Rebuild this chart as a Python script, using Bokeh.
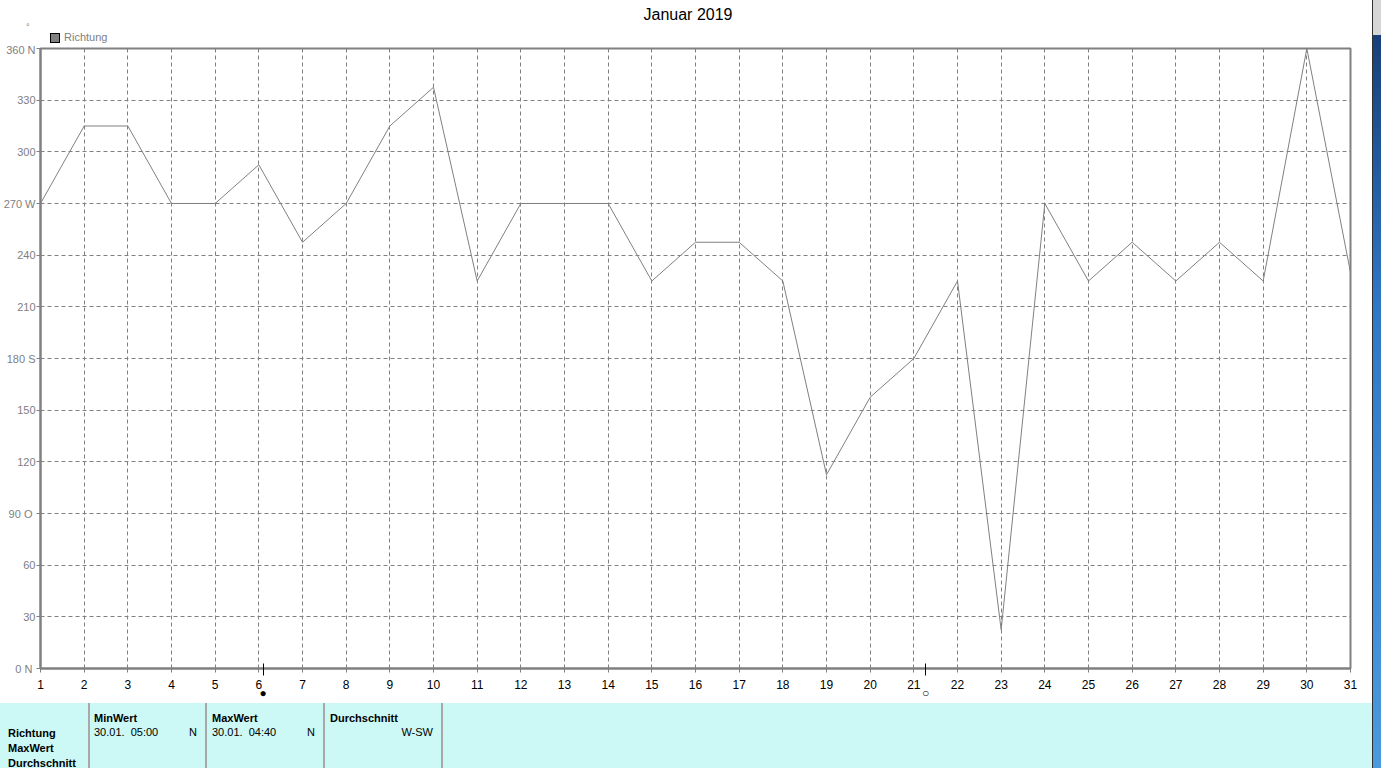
from bokeh.plotting import figure
from bokeh.models import Range1d, FixedTicker, Div
from bokeh.layouts import column, row
from bokeh.embed import file_html
from bokeh.resources import INLINE

# ---------------- data ----------------
title_text = "Januar 2019"
series_name = "Richtung"
days = list(range(1, 32))
richtung = [270, 315, 315, 270, 270, 292.5, 247.5, 270, 315, 337.5,
            225, 270, 270, 270, 225, 247.5, 247.5, 225, 112.5, 157.5,
            180, 225, 22.5, 270, 225, 247.5, 225, 247.5, 225, 360, 230]
y_ticks = [0, 30, 60, 90, 120, 150, 180, 210, 240, 270, 300, 330, 360]
y_tick_labels = ["0  N", "30", "60", "90  O", "120", "150", "180 S",
                 "210", "240", "270 W", "300", "330", "360 N"]
moon_days = [6.1, 21.27]
moon_symbols = ["\u25CF", "\u25CB"]

row_labels = ["Richtung", "MaxWert", "Durchschnitt"]
col_headers = ["MinWert", "MaxWert", "Durchschnitt"]
col_times = ["30.01.  05:00", "30.01.  04:40", ""]
col_dirs = ["N", "N", "W-SW"]

FONT = "Liberation Sans"
GRAY = "#808080"
W = 1372

# ---------------- header (title + legend) ----------------
hspan = "position:absolute;white-space:pre;font-family:'Liberation Sans';"
header_html = (
    "<div style='position:relative;width:%dpx;height:43px;overflow:hidden;background:white;'>"
    "<span style=\"%sleft:588px;width:200px;text-align:center;top:5px;font-size:16px;"
    "line-height:20px;color:black;\">%s</span>"
    "<span style=\"%sleft:26px;top:22px;font-size:9px;line-height:10px;color:%s;\">\u00B0</span>"
    "<div style='position:absolute;left:50px;top:33px;width:10px;height:10px;"
    "box-sizing:border-box;border:1px solid black;background:%s;'></div>"
    "<span style=\"%sleft:64px;top:31px;font-size:11px;line-height:13px;color:%s;\">%s</span>"
    "</div>" % (W, hspan, title_text, hspan, GRAY, GRAY, hspan, GRAY, series_name))
header = Div(text=header_html, width=W, height=43, margin=0,
             styles={"background-color": "white", "overflow": "hidden"})

# ---------------- chart ----------------
p = figure(width=W, height=660, output_backend="svg", toolbar_location=None,
           x_range=Range1d(1, 31), y_range=Range1d(0, 360),
           min_border_left=40, min_border_right=22, min_border_top=5,
           min_border_bottom=35)
p.background_fill_color = "white"
p.border_fill_color = "white"
p.outline_line_color = GRAY
p.outline_line_width = 2

p.line(days, richtung, line_color=GRAY, line_width=1)

# x axis: day ticks + moon phase marks (minor ticks, labelled on a 2nd line)
p.xaxis.ticker = FixedTicker(ticks=days + moon_days, minor_ticks=moon_days)
p.xaxis.major_label_overrides = {d: "\n" + s for d, s in zip(moon_days, moon_symbols)}
p.yaxis.ticker = FixedTicker(ticks=y_ticks)
p.yaxis.major_label_overrides = {t: l for t, l in zip(y_ticks, y_tick_labels)}
p.yaxis.minor_tick_line_color = None
for ax in (p.xaxis, p.yaxis):
    ax.axis_line_color = GRAY
    ax.axis_line_width = 2
    ax.major_tick_line_color = GRAY
    ax.major_tick_in = 0
    ax.major_tick_out = 4
    ax.major_label_text_font = FONT
    ax.major_label_text_font_size = "11px"
    ax.major_label_standoff = 1
p.xaxis.major_label_text_font_size = "12px"
p.xaxis.major_label_standoff = 2
p.xaxis.major_label_text_color = "black"
p.xaxis.major_label_text_line_height = 0.6
p.yaxis.major_label_text_color = GRAY
p.xaxis.minor_tick_line_color = "black"
p.xaxis.minor_tick_line_width = 1
p.xaxis.minor_tick_in = 5
p.xaxis.minor_tick_out = 7

for g in (p.xgrid, p.ygrid):
    g.grid_line_color = GRAY
    g.grid_line_dash = "4 3"
    g.grid_line_width = 1
p.xgrid.ticker = FixedTicker(ticks=days)
p.ygrid.ticker = FixedTicker(ticks=y_ticks)

# ---------------- table ----------------
CYAN = "#CCF8F6"
sep_x = [88, 205, 323, 441]
col_x = [94, 212, 330]
col_right = [197, 315, 433]
span = ("position:absolute;white-space:pre;font-family:'Liberation Sans';"
        "font-size:11px;line-height:13px;color:black;")
parts = []
for xs in sep_x:
    parts.append(f"<div style='position:absolute;left:{xs}px;top:0;width:2px;"
                 f"height:65px;background:#a8a8a8;'></div>")
for i, lab in enumerate(row_labels):
    parts.append(f"<span style=\"{span}left:8px;top:{24 + 15 * i}px;"
                 f"font-weight:bold;\">{lab}</span>")
for x0, xr, h, tm, dr in zip(col_x, col_right, col_headers, col_times, col_dirs):
    parts.append(f"<span style=\"{span}left:{x0}px;top:9px;font-weight:bold;\">{h}</span>")
    if tm:
        parts.append(f"<span style=\"{span}left:{x0}px;top:23px;\">{tm}</span>")
    parts.append(f"<span style=\"{span}left:{xr - 60}px;width:60px;text-align:right;"
                 f"top:23px;\">{dr}</span>")
html = ("<div style='position:relative;width:%dpx;height:65px;overflow:hidden;"
        "background:%s;'>%s</div>" % (W, CYAN, "".join(parts)))
table = Div(text=html, width=W, height=65, margin=0,
            styles={"background-color": CYAN, "overflow": "hidden"})

strip = Div(text="", width=9, height=768, margin=0,
            styles={"background": "linear-gradient(#d6d6d6 0px, #d6d6d6 35px, "
                                  "#173f7a 35px, #2f78c8 40%, #4a9ae0 100%)",
                    "border-left": "1px solid #303030"})

layout = row(column(header, p, table, spacing=0), strip, spacing=0)
open("out.html", "w").write(file_html(layout, INLINE))
